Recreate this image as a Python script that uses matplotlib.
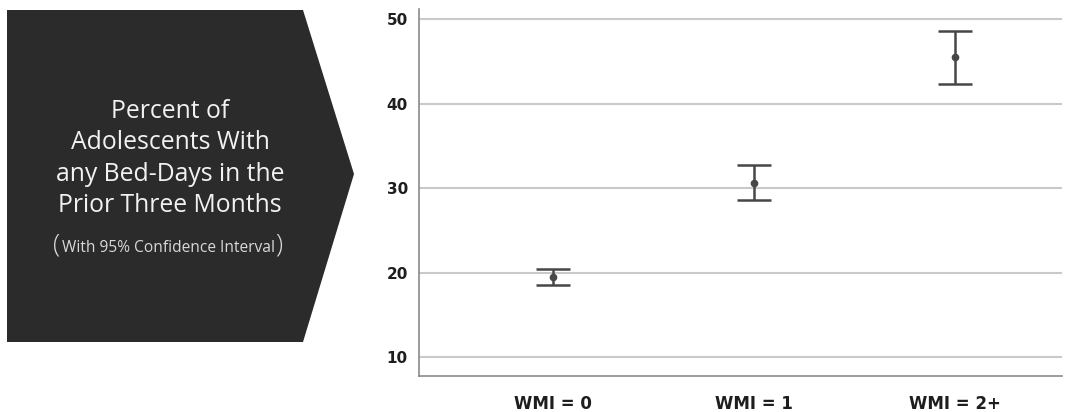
import matplotlib
matplotlib.use("Agg")
import matplotlib.pyplot as plt
from matplotlib.patches import Polygon

# data
groups = ["WMI = 0", "WMI = 1", "WMI = 2+"]
pct = [19.55, 30.65, 45.5]
ci_low = [18.6, 28.6, 42.3]
ci_high = [20.5, 32.75, 48.65]
yticks = [10, 20, 30, 40, 50]

W, H = 1066, 412
fig = plt.figure(figsize=(W / 100, H / 100), dpi=100)

# left banner (arrow shape), in pixel coordinates
bax = fig.add_axes([0, 0, 1, 1])
bax.set_xlim(0, W)
bax.set_ylim(H, 0)
bax.axis("off")
arrow = Polygon([(7, 10), (303, 10), (354, 174), (303, 342), (7, 342)],
                closed=True, facecolor="#2b2b2b", edgecolor="none")
bax.add_patch(arrow)

title_lines = ["Percent of", "Adolescents With", "any Bed-Days in the",
               "Prior Three Months"]
for i, line in enumerate(title_lines):
    bax.text(170, 111 + i * 31.5, line, ha="center", va="center",
             fontsize=17.8, color="#f2f2f2", family="Open Sans")
# subtitle with big parentheses
bax.text(57, 245, "(", ha="center", va="center", fontsize=19,
         color="#d9d9d9", family="Open Sans", fontweight="light")
bax.text(279, 245, ")", ha="center", va="center", fontsize=19,
         color="#d9d9d9", family="Open Sans", fontweight="light")
bax.text(168, 248, "With 95% Confidence Interval", ha="center", va="center",
         fontsize=11.2, color="#d9d9d9", family="Open Sans")

# main chart
ax = fig.add_axes([419 / W, 1 - 376 / H, (1062 - 419) / W, (376 - 9) / H])
x = list(range(len(groups)))
err_lo = [p - l for p, l in zip(pct, ci_low)]
err_hi = [h - p for p, h in zip(pct, ci_high)]
ax.errorbar(x, pct, yerr=[err_lo, err_hi], fmt="o", color="#474747",
            markersize=4.5, elinewidth=1.8, capsize=12, capthick=1.8,
            zorder=3)

ax.set_xlim(-0.667, 2.53)
ax.set_ylim(7.8, 51.2)
ax.set_yticks(yticks)
ax.set_xticks(x)
ax.set_xticklabels(groups)
ax.grid(axis="y", color="#c9c9c9", linewidth=1.5)
ax.set_axisbelow(True)
for s in ["top", "right"]:
    ax.spines[s].set_visible(False)
for s in ["left", "bottom"]:
    ax.spines[s].set_color("#8a8a8a")
    ax.spines[s].set_linewidth(1.2)
ax.tick_params(length=0)
ax.tick_params(axis="y", pad=8)
ax.tick_params(axis="x", pad=14)
for lab in ax.get_yticklabels():
    lab.set_fontweight("bold")
    lab.set_fontsize(11)
    lab.set_color("#1e1e1e")
for lab in ax.get_xticklabels():
    lab.set_fontweight("bold")
    lab.set_fontsize(12)
    lab.set_color("#1e1e1e")

fig.savefig("out.png", dpi=100)
